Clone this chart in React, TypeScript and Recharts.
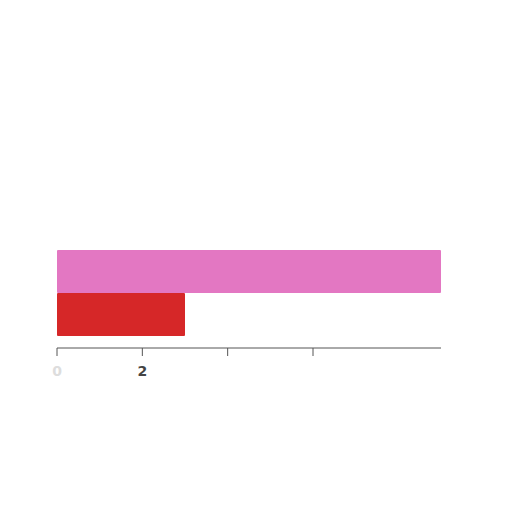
import { BarChart, Bar, XAxis, YAxis, Cell } from 'recharts';

const categories = ['A', 'B'];
const values = [9, 3];
const colors = ['#e377c2', '#d62728'];
const tickValues = [0, 2, 4, 6];
const tickLabels = ['0', '2', '', ''];
const tickColors = ['#ddd', '#444', '#444', '#444'];

const data = categories.map((c, i) => ({ name: c, value: values[i] }));

function Tick(props: any) {
  const { x, y, payload } = props;
  const i = tickValues.indexOf(payload.value);
  return (
    <text x={x} y={y + 18} textAnchor="middle" fontSize={14} fontWeight="bold" fill={tickColors[i]}>
      {tickLabels[i]}
    </text>
  );
}

export default function App() {
  return (
    <div style={{ width: 496, height: 380, fontFamily: 'DejaVu Sans' }}>
      <BarChart
        width={496}
        height={380}
        data={data}
        layout="vertical"
        barCategoryGap={0}
        margin={{ top: 242, right: 63, left: 49, bottom: 10 }}
      >
        <XAxis
          type="number"
          domain={[0, 9]}
          ticks={tickValues}
          stroke="#555"
          tick={<Tick />}
          tickSize={8}
        />
        <YAxis type="category" dataKey="name" hide padding={{ top: 0, bottom: 12 }} />
        <Bar dataKey="value" isAnimationActive={false} radius={1}>
          {data.map((d, i) => (
            <Cell key={d.name} fill={colors[i]} />
          ))}
        </Bar>
      </BarChart>
    </div>
  );
}
